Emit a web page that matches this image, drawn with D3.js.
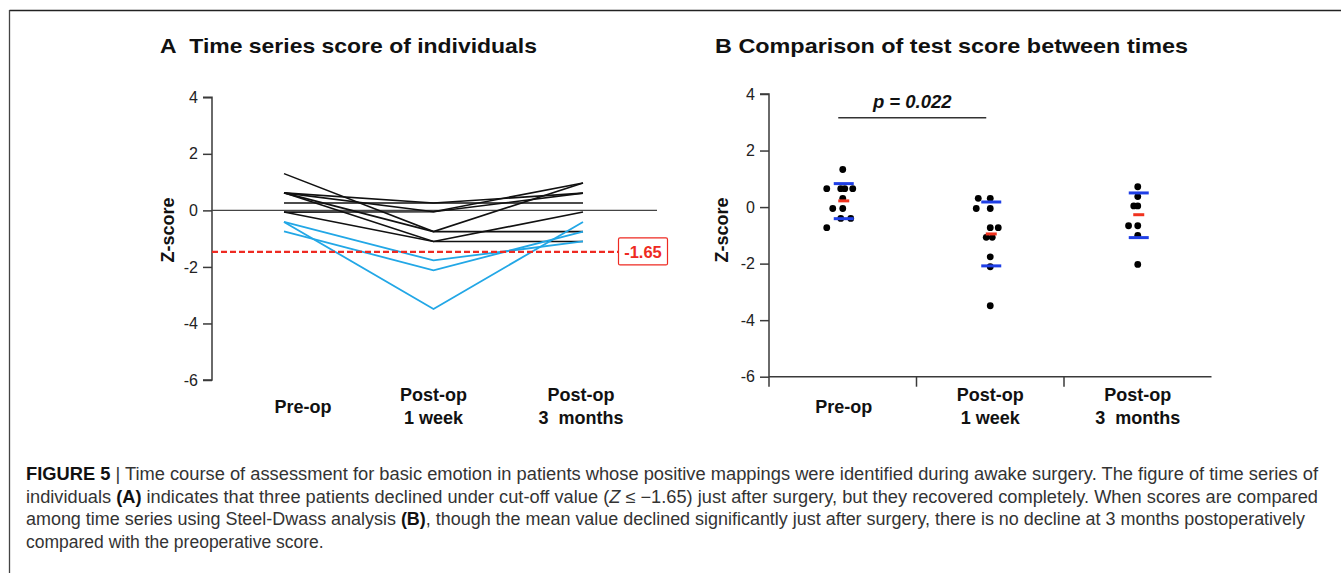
<!DOCTYPE html>
<html><head><meta charset="utf-8">
<script src="https://cdn.jsdelivr.net/npm/d3@7"></script>
<style>
body{margin:0;background:#fff}
svg{display:block}
text{font-family:"Liberation Sans",Arial,Helvetica,sans-serif}
</style>
</head><body>
<svg id="c" width="1341" height="573"></svg>
<script>
// ---------- data ----------
const categories = ["Pre-op", "Post-op 1 week", "Post-op 3 months"];
const categoryLabelLines = [["Pre-op"], ["Post-op", "1 week"], ["Post-op", "3  months"]];
const yTicks = [4, 2, 0, -2, -4, -6];

// Panel A: individual Z-scores (Pre-op, 1 week, 3 months)
const patientsAboveCutoff = [
  [1.30, -0.75, 0.97],
  [0.62, 0.26, 0.61],
  [0.62, -0.05, 0.97],
  [0.62, -0.75, -0.75],
  [0.62, -1.10, -1.10],
  [0.26, 0.26, 0.26],
  [-0.06, -1.10, -0.06],
  [-0.06, -0.05, 0.61]
];
const patientsBelowCutoff = [
  [-0.41, -3.49, -0.41],
  [-0.41, -1.77, -1.10],
  [-0.74, -2.12, -0.75]
];
const cutoffLabel = "-1.65";
const cutoffDrawnAt = -1.47;

// Panel B: dot scores per time point, with beeswarm slot offsets
const preOpScores  = [1.33, 0.65, 0.65, 0.65, 0.65, 0.31, -0.05, -0.05, -0.40, -0.40, -0.73];
const preOpSlots   = [0, -4, -0.5, 0.5, 2.5, 0, -2.5, 0, -0.5, 2, -4];
const week1Scores  = [0.31, 0.31, -0.05, -0.05, -0.73, -0.73, -1.07, -1.07, -1.76, -2.11, -3.49];
const week1Slots   = [-3, 0, -3.5, 0, 0, 2, -1, 0.5, 0, 0, 0];
const month3Scores = [0.72, 0.37, 0.04, 0.04, -0.66, -0.66, -1.00, -2.03];
const month3Slots  = [0, 0, -1, 0, -2.3, 0, 0, 0];
const upperBar  = [0.83, 0.18, 0.50];
const centerBar = [0.22, -0.95, -0.27];
const lowerBar  = [-0.41, -2.08, -1.08];
const pValueText = "p = 0.022";
const bracketLevel = 3.16;

const captionLines = [
  [["b","FIGURE 5"],["n"," | Time course of assessment for basic emotion in patients whose positive mappings were identified during awake surgery. The figure of time series of"]],
  [["n","individuals "],["b","(A)"],["n"," indicates that three patients declined under cut-off value ("],["i","Z"],["n"," \u2264 \u22121.65) just after surgery, but they recovered completely. When scores are compared"]],
  [["n","among time series using Steel-Dwass analysis "],["b","(B)"],["n",", though the mean value declined significantly just after surgery, there is no decline at 3 months postoperatively"]],
  [["n","compared with the preoperative score."]]
];

// ---------- drawing ----------
const svg = d3.select("#c");
const AX = "#3a3a3a";
const BLUE_LINE = "#22a7e6";
const fmt = d => String(d);

// frame
svg.append("line").attr("x1", 9.5).attr("x2", 1341).attr("y1", 10.5).attr("y2", 10.5).attr("stroke", "#222").attr("stroke-width", 1.3);
svg.append("line").attr("x1", 9.5).attr("x2", 9.5).attr("y1", 10).attr("y2", 573).attr("stroke", "#444").attr("stroke-width", 1.3);

// titles
svg.append("text").attr("x", 160).attr("y", 53).attr("font-size", 21).attr("font-weight", "bold").attr("fill", "#111")
  .attr("textLength", 377).attr("lengthAdjust", "spacingAndGlyphs")
  .text("A\u00a0\u00a0Time series score of individuals");
svg.append("text").attr("x", 715).attr("y", 53).attr("font-size", 21).attr("font-weight", "bold").attr("fill", "#111")
  .attr("textLength", 473).attr("lengthAdjust", "spacingAndGlyphs")
  .text("B Comparison of test score between times");

// ===== Panel A =====
const yA = d3.scaleLinear().domain([-6, 4]).range([380, 97.3]);
const xA = d3.scalePoint().domain(categories).range([284, 583]);
const gA = svg.append("g");

const axA = gA.append("g").attr("transform", "translate(212,0)")
  .call(d3.axisLeft(yA).tickValues(yTicks).tickSize(9).tickPadding(5).tickFormat(fmt));
axA.select(".domain").attr("stroke", AX).attr("stroke-width", 1.5).attr("d", `M-9,${yA(4)}H0V${yA(-6)}H-9`);
axA.selectAll(".tick line").attr("stroke", AX).attr("stroke-width", 1.5);
axA.selectAll(".tick text").attr("font-size", 16).attr("fill", "#222").attr("font-family", "Liberation Sans, Arial, sans-serif");

// zero reference line
gA.append("line").attr("x1", 212).attr("x2", 657).attr("y1", yA(0)).attr("y2", yA(0)).attr("stroke", "#444").attr("stroke-width", 1.4);

const lineA = d3.line().x((d, i) => xA(categories[i])).y(d => yA(d));
gA.selectAll("path.blk").data(patientsAboveCutoff).join("path").attr("class", "blk")
  .attr("d", lineA).attr("fill", "none").attr("stroke", "#111").attr("stroke-width", 1.6);
gA.selectAll("path.blu").data(patientsBelowCutoff).join("path").attr("class", "blu")
  .attr("d", lineA).attr("fill", "none").attr("stroke", BLUE_LINE).attr("stroke-width", 1.8);

// cutoff
gA.append("line").attr("x1", 212).attr("x2", 618).attr("y1", yA(cutoffDrawnAt)).attr("y2", yA(cutoffDrawnAt))
  .attr("stroke", "#ee2a22").attr("stroke-width", 2.2).attr("stroke-dasharray", "6,3");
gA.append("rect").attr("x", 618.5).attr("y", yA(cutoffDrawnAt) - 14).attr("width", 49).attr("height", 27).attr("rx", 1.5)
  .attr("fill", "#fff").attr("stroke", "#ee2a22").attr("stroke-width", 1.2);
gA.append("text").attr("x", 643).attr("y", yA(cutoffDrawnAt) + 6).attr("text-anchor", "middle")
  .attr("font-size", 16.5).attr("font-weight", "bold").attr("fill", "#ee2a22").text(cutoffLabel);

// y label
gA.append("text").attr("transform", "translate(174,230) rotate(-90)").attr("text-anchor", "middle")
  .attr("font-size", 18).attr("font-weight", "bold").attr("fill", "#111").text("Z-score");

// x labels
const labelShiftA = [19, 0, -2];
categories.forEach((c, i) => {
  const lines = categoryLabelLines[i];
  const t = gA.append("text").attr("text-anchor", "middle").attr("font-size", 18).attr("font-weight", "bold").attr("fill", "#111")
    .attr("xml:space", "preserve").style("white-space", "pre");
  lines.forEach((s, j) => {
    t.append("tspan").attr("x", xA(c) + labelShiftA[i])
      .attr("y", lines.length === 1 ? 413 : 401 + j * 23).text(s);
  });
});

// ===== Panel B =====
const yB = d3.scaleLinear().domain([-6, 4]).range([376.7, 94]);
const xB = d3.scaleBand().domain(categories).range([769, 1211.5]).padding(0);
const bw = xB.bandwidth();
const gB = svg.append("g");

const axB = gB.append("g").attr("transform", "translate(769,0)")
  .call(d3.axisLeft(yB).tickValues(yTicks).tickSize(9).tickPadding(5).tickFormat(fmt));
axB.select(".domain").attr("stroke", AX).attr("stroke-width", 1.5).attr("d", `M-9,${yB(4)}H0V${yB(-6) + 10}`);
axB.selectAll(".tick line").attr("stroke", AX).attr("stroke-width", 1.5);
axB.selectAll(".tick text").attr("font-size", 16).attr("fill", "#222").attr("font-family", "Liberation Sans, Arial, sans-serif");

// x axis
gB.append("line").attr("x1", 769).attr("x2", xB.range()[1]).attr("y1", yB(-6)).attr("y2", yB(-6)).attr("stroke", AX).attr("stroke-width", 1.5);
categories.slice(1).forEach(c => {
  gB.append("line").attr("x1", xB(c)).attr("x2", xB(c)).attr("y1", yB(-6)).attr("y2", yB(-6) + 10).attr("stroke", AX).attr("stroke-width", 1.5);
});

// x labels
categories.forEach((c, i) => {
  const lines = categoryLabelLines[i];
  const t = gB.append("text").attr("text-anchor", "middle").attr("font-size", 18).attr("font-weight", "bold").attr("fill", "#111")
    .attr("xml:space", "preserve").style("white-space", "pre");
  lines.forEach((s, j) => {
    t.append("tspan").attr("x", xB(c) + bw / 2 + (i === 0 ? 1 : 0))
      .attr("y", lines.length === 1 ? 413 : 401 + j * 23).text(s);
  });
});

// y label
gB.append("text").attr("transform", "translate(728,230) rotate(-90)").attr("text-anchor", "middle")
  .attr("font-size", 18).attr("font-weight", "bold").attr("fill", "#111").text("Z-score");

// dots
const SLOT = 4;
const groups = [
  {c: categories[0], v: preOpScores, s: preOpSlots},
  {c: categories[1], v: week1Scores, s: week1Slots},
  {c: categories[2], v: month3Scores, s: month3Slots}
];
groups.forEach(g => {
  gB.selectAll(null).data(g.v.map((v, i) => ({v, s: g.s[i]}))).join("circle")
    .attr("cx", d => xB(g.c) + bw / 2 + d.s * SLOT).attr("cy", d => yB(d.v)).attr("r", 3.4).attr("fill", "#000");
});

// summary bars
categories.forEach((c, i) => {
  const cx = xB(c) + bw / 2 + 1;
  [upperBar[i], lowerBar[i]].forEach(v => {
    gB.append("line").attr("x1", cx - 10).attr("x2", cx + 10).attr("y1", yB(v)).attr("y2", yB(v))
      .attr("stroke", "#1f3fe6").attr("stroke-width", 3);
  });
  gB.append("line").attr("x1", cx - 5.5).attr("x2", cx + 5.5).attr("y1", yB(centerBar[i])).attr("y2", yB(centerBar[i]))
    .attr("stroke", "#f0321e").attr("stroke-width", 3);
});

// significance bracket
const bx1 = xB(categories[0]) + bw / 2 - 4.5, bx2 = xB(categories[1]) + bw / 2 - 4;
gB.append("line").attr("x1", bx1).attr("x2", bx2).attr("y1", yB(bracketLevel)).attr("y2", yB(bracketLevel))
  .attr("stroke", "#333").attr("stroke-width", 1.3);
gB.append("text").attr("x", (bx1 + bx2) / 2).attr("y", yB(bracketLevel) - 9.5).attr("text-anchor", "middle")
  .attr("font-size", 18.5).attr("font-weight", "bold").attr("font-style", "italic").attr("fill", "#111").text(pValueText);

// ===== Caption =====
const capWidths = [1292, 1292, 1279, null];
captionLines.forEach((parts, i) => {
  const t = svg.append("text").attr("x", 26).attr("y", 480 + i * 22.7).attr("font-size", 17.5)
    .attr("fill", "#333").style("font-family", "'Liberation Sans Narrow','Liberation Sans',Arial,sans-serif");
  if (capWidths[i]) t.attr("textLength", capWidths[i]).attr("lengthAdjust", "spacingAndGlyphs");
  parts.forEach(([k, s]) => {
    const ts = t.append("tspan").text(s);
    if (k === "b") ts.attr("font-weight", "bold").attr("fill", "#111");
    if (k === "i") ts.attr("font-style", "italic");
  });
});
</script>
</body></html>
